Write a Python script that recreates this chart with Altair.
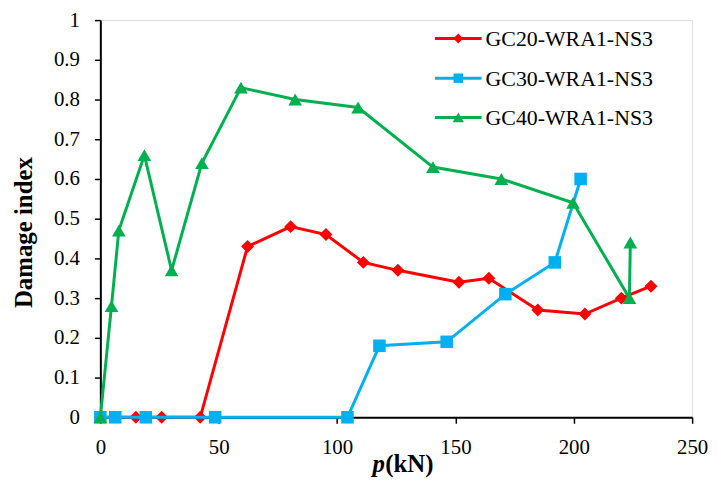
import altair as alt
import pandas as pd

# ---- data ----
series = ["GC20-WRA1-NS3", "GC30-WRA1-NS3", "GC40-WRA1-NS3"]

gc20_p = [0, 15.0, 25.9, 42.2, 62.2, 80.4, 95.3, 111.1, 125.7, 151.5, 164.1, 184.8, 204.7, 220.1, 232.6]
gc20_d = [0, 0, 0, 0, 0.43, 0.48, 0.46, 0.39, 0.37, 0.34, 0.35, 0.27, 0.26, 0.30, 0.33]

gc30_p = [0, 6.3, 19.2, 48.5, 104.4, 117.9, 146.3, 171.1, 192.0, 202.9]
gc30_d = [0, 0, 0, 0, 0, 0.18, 0.19, 0.31, 0.39, 0.60]

gc40_p = [0, 4.7, 7.8, 18.6, 30.1, 42.9, 59.4, 82.3, 108.9, 140.5, 169.4, 199.7, 223.5, 223.9]
gc40_d = [0, 0.28, 0.47, 0.66, 0.37, 0.64, 0.83, 0.80, 0.78, 0.63, 0.60, 0.54, 0.30, 0.44]

x_ticks = [0, 50, 100, 150, 200, 250]
y_ticks = [0, 0.1, 0.2, 0.3, 0.4, 0.5, 0.6, 0.7, 0.8, 0.9, 1]

# ---- styling ----
colors = ["#FF0000", "#00B0F0", "#00B050"]
shapes = ["diamond", "square", "triangle-up"]
sizes = [170, 160, 190]
leg_sizes = [100, 90, 130]
FONT = "Liberation Serif"

x_scale = alt.Scale(domain=[0, 250], nice=False, zero=False)
y_scale = alt.Scale(domain=[0, 1], nice=False, zero=False)

x_axis = alt.Axis(values=x_ticks, title=None, grid=False, domainColor="black",
                  domainWidth=2, tickColor="black", tickWidth=1.5, tickSize=6,
                  labelFont=FONT, labelFontSize=21, labelColor="black",
                  labelPadding=13, labelFlush=False)
y_axis = alt.Axis(values=y_ticks, format="~g", title="Damage index", grid=False,
                  domainColor="black", domainWidth=2, tickColor="black",
                  tickWidth=1.5, tickSize=6, labelFont=FONT, labelFontSize=21,
                  labelColor="black", labelPadding=15, titleFont=FONT,
                  titleFontSize=25, titleFontWeight="bold", titleColor="black",
                  titleAngle=270, titleBaseline="bottom", titleX=-64, titleY=213.5,
                  titleAlign="center")

layers = []
for name, p, d, col, shp, sz in zip(series, [gc20_p, gc30_p, gc40_p],
                                    [gc20_d, gc30_d, gc40_d], colors, shapes, sizes):
    df = pd.DataFrame({"p": p, "d": d, "i": list(range(len(p)))})
    base = alt.Chart(df).encode(
        x=alt.X("p:Q", scale=x_scale, axis=x_axis),
        y=alt.Y("d:Q", scale=y_scale, axis=y_axis),
        order=alt.Order("i:Q"),
    )
    layers.append(base.mark_line(color=col, strokeWidth=3))
    layers.append(base.mark_point(shape=shp, filled=True, color=col, size=sz, opacity=1))

# ---- manual legend (pixel positions inside plot area) ----
dummy = pd.DataFrame({"a": [0]})
leg_y = [18.5, 58.5, 98]
for name, col, shp, lsz, yy in zip(series, colors, shapes, leg_sizes, leg_y):
    layers.append(alt.Chart(dummy).mark_rule(color=col, strokeWidth=3).encode(
        x=alt.value(337), x2=alt.value(384), y=alt.value(yy)))
    layers.append(alt.Chart(dummy).mark_point(shape=shp, filled=True, color=col,
                                              size=lsz, opacity=1).encode(
        x=alt.value(360.5), y=alt.value(yy)))
    layers.append(alt.Chart(dummy).mark_text(text=name, font=FONT, fontSize=22,
                                             color="black", align="left",
                                             baseline="middle").encode(
        x=alt.value(388), y=alt.value(yy + 1)))

# ---- x axis title: italic bold "p" + bold "(kN)" ----
layers.append(alt.Chart(dummy).mark_text(text="p", font=FONT, fontSize=25,
                                         fontStyle="italic", fontWeight="bold",
                                         color="black", align="left",
                                         baseline="alphabetic").encode(
    x=alt.value(274), y=alt.value(455)))
layers.append(alt.Chart(dummy).mark_text(text="(kN)", font=FONT, fontSize=25,
                                         fontWeight="bold", color="black",
                                         align="left", baseline="alphabetic").encode(
    x=alt.value(287), y=alt.value(455)))

chart = alt.layer(*layers).properties(
    width=596, height=400,
    padding={"left": 93, "top": 10.5, "right": 18, "bottom": 66},
    autosize=alt.AutoSizeParams(type="none"),
).configure_view(stroke=None).configure(background="white")

chart.save("out.html", embed_options={"renderer": "svg", "actions": False})
